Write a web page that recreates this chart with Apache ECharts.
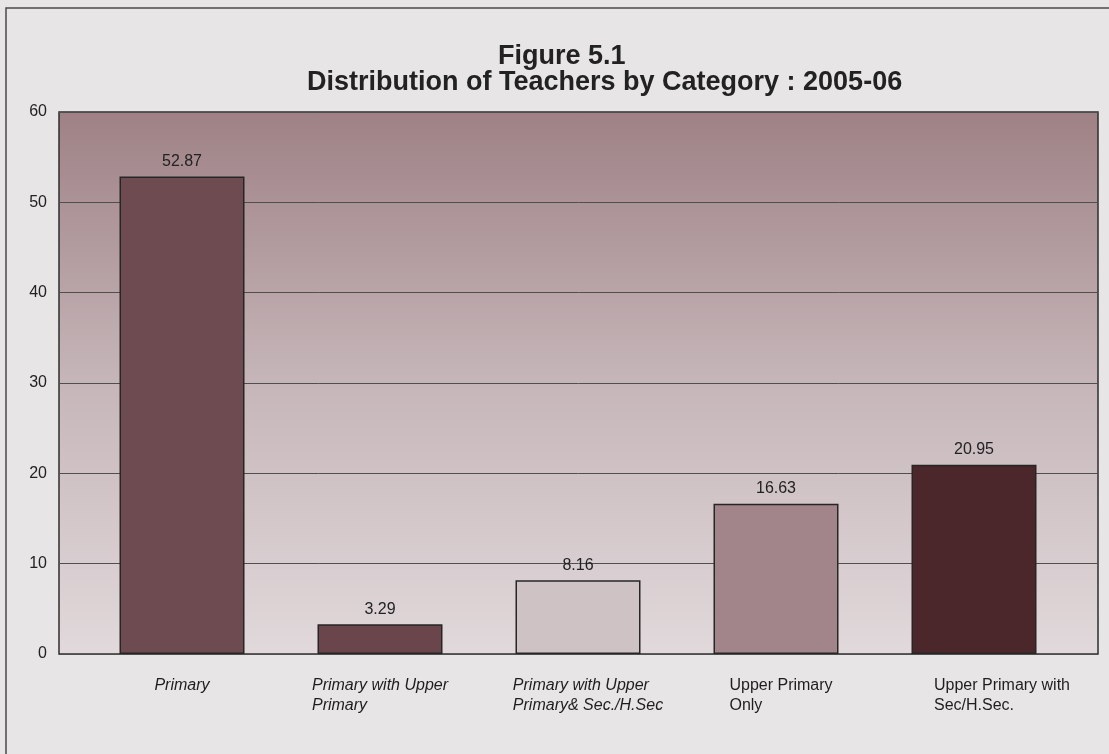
<!DOCTYPE html>
<html>
<head>
<meta charset="utf-8">
<script src="https://cdn.jsdelivr.net/npm/echarts@6/dist/echarts.min.js"></script>
<style>
html,body{margin:0;padding:0;background:#e7e5e6;}
#chart{width:1109px;height:754px;}
</style>
</head>
<body>
<div id="chart"></div>
<script>
const titleLine1 = 'Figure 5.1';
const titleLine2 = 'Distribution of Teachers by Category : 2005-06';
const categories = [
  'Primary',
  'Primary with Upper\nPrimary',
  'Primary with Upper\nPrimary& Sec./H.Sec',
  'Upper Primary\nOnly',
  'Upper Primary with\nSec/H.Sec.'
];
const values = [52.87, 3.29, 8.16, 16.63, 20.95];
const yMin = 0, yMax = 60, yStep = 10;

// styles (kept apart from data)
const barColors = ['#6e4b51', '#6a454b', '#cfc2c5', '#a2858a', '#4b272b'];
const labelItalic = [true, true, true, false, false];
const labelShift = [0, 0, 20, 10, 56];

const FONT = '"Liberation Sans", Arial, sans-serif';
const chart = echarts.init(document.getElementById('chart'));

const rich = {};
categories.forEach((c, i) => {
  rich['c' + i] = {
    fontFamily: FONT, fontSize: 16, lineHeight: 20, color: '#1e1e1e',
    fontStyle: labelItalic[i] ? 'italic' : 'normal',
    align: 'left', padding: [0, 0, 0, labelShift[i]]
  };
});

chart.setOption({
  backgroundColor: '#e7e5e6',
  animation: false,
  title: [
    { text: titleLine1, left: 498, top: 43, padding: 0,
      textStyle: { fontFamily: FONT, fontSize: 27, fontWeight: 'bold', color: '#222', lineHeight: 27 } },
    { text: titleLine2, left: 307, top: 69, padding: 0,
      textStyle: { fontFamily: FONT, fontSize: 27, fontWeight: 'bold', color: '#222', lineHeight: 27 } }
  ],
  graphic: [
    { type: 'rect', z: -1, shape: { x: 6, y: 8, width: 1130, height: 770 },
      style: { fill: null, stroke: '#4a4a4a', lineWidth: 1.5 } }
  ],
  grid: [
    { left: 59, top: 112, width: 1039, height: 542, show: true,
      backgroundColor: new echarts.graphic.LinearGradient(0, 0, 0, 1, [
        { offset: 0, color: '#9e8185' },
        { offset: 0.5, color: '#c6b6b9' },
        { offset: 1, color: '#e1d9db' }
      ]),
      borderColor: '#2e2e2e', borderWidth: 1.5 },
    { left: 83, top: 112, width: 990, height: 542 }
  ],
  xAxis: [
    { gridIndex: 0, type: 'category', data: categories, show: false },
    { gridIndex: 1, type: 'category', data: categories,
      axisLine: { show: false }, axisTick: { show: false },
      axisLabel: {
        interval: 0, margin: 22,
        formatter: function (v, i) {
          return v.split('\n').map(l => '{c' + i + '|' + l + '}').join('\n');
        },
        rich: rich
      } }
  ],
  yAxis: [
    { gridIndex: 0, type: 'value', min: yMin, max: yMax, interval: yStep,
      axisLine: { show: false }, axisTick: { show: false },
      axisLabel: { margin: 12, fontFamily: FONT, fontSize: 16, color: '#222' },
      splitLine: { show: true, lineStyle: { color: '#4f4f4f', width: 1 } } },
    { gridIndex: 1, type: 'value', min: yMin, max: yMax, interval: yStep, show: false,
      splitLine: { show: false } }
  ],
  series: [
    { type: 'bar', xAxisIndex: 1, yAxisIndex: 1, barWidth: 125,
      data: values.map((v, i) => ({ value: v, itemStyle: { color: barColors[i] } })),
      itemStyle: { borderColor: '#262626', borderWidth: 1.5 },
      label: { show: true, position: 'top', distance: 7,
        fontFamily: FONT, fontSize: 16, color: '#222',
        formatter: p => p.value.toFixed(2) } }
  ]
});
</script>
</body>
</html>
